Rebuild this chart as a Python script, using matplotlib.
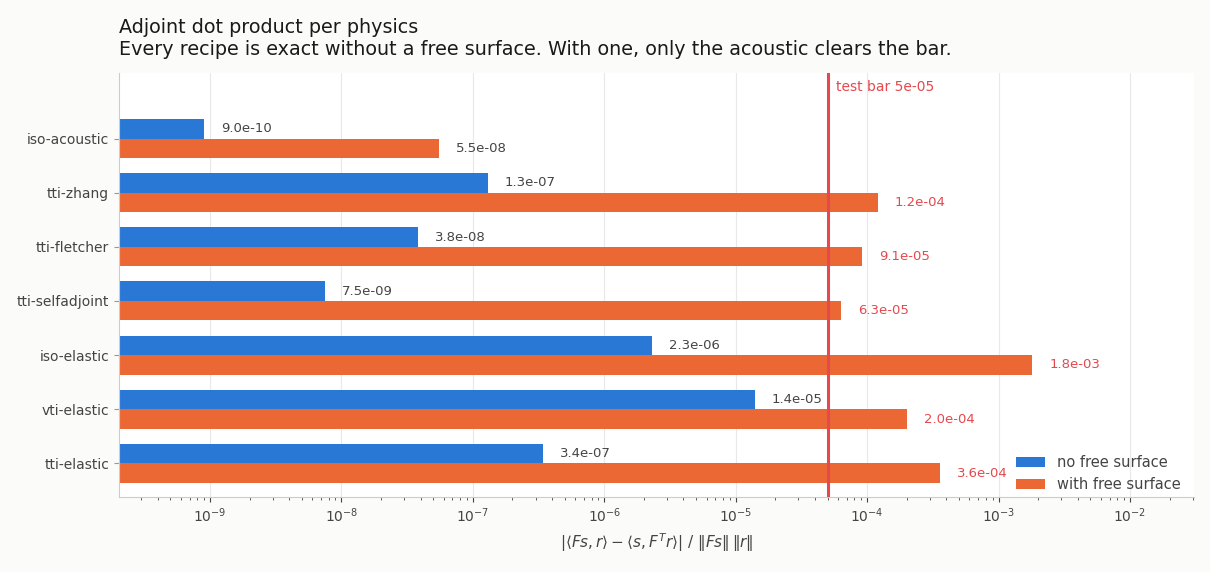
import matplotlib.pyplot as plt
import numpy as np

# Data
physics = ["iso-acoustic", "tti-zhang", "tti-fletcher", "tti-selfadjoint",
           "iso-elastic", "vti-elastic", "tti-elastic"]
no_free_surface = [9.0e-10, 1.3e-07, 3.8e-08, 7.5e-09, 2.3e-06, 1.4e-05, 3.4e-07]
with_free_surface = [5.5e-08, 1.2e-04, 9.1e-05, 6.3e-05, 1.8e-03, 2.0e-04, 3.6e-04]
test_bar = 5e-05

blue = "#2a78d6"
orange = "#eb6835"
red = "#e5484d"
grey = "#444444"

fig = plt.figure(figsize=(12.1, 5.72), dpi=100)
fig.patch.set_facecolor("#fbfbf9")
ax = fig.add_axes([0.0983, 0.1311, 0.8885, 0.7413])
ax.set_facecolor("white")

y = np.arange(len(physics))
h = 0.36
ax.barh(y - h / 2, no_free_surface, height=h, color=blue, label="no free surface", zorder=2)
ax.barh(y + h / 2, with_free_surface, height=h, color=orange, label="with free surface", zorder=2)

# value labels
for i in range(len(physics)):
    ax.text(no_free_surface[i] * 1.35, y[i] - h / 2, f"{no_free_surface[i]:.1e}",
            va="center", ha="left", fontsize=9.5, color=grey)
    c = red if with_free_surface[i] > test_bar else grey
    ax.text(with_free_surface[i] * 1.35, y[i] + h / 2, f"{with_free_surface[i]:.1e}",
            va="center", ha="left", fontsize=9.5, color=c)

ax.axvline(test_bar, color=red, lw=2.2, zorder=3)
ax.text(test_bar * 1.15, -0.95, "test bar 5e-05", color=red, fontsize=10, va="center", ha="left")

ax.set_xscale("log")
ax.set_xlim(2.03e-10, 3.07e-2)
ax.set_ylim(6.62, -1.21)
ax.set_yticks(y)
ax.set_yticklabels(physics)

ax.grid(axis="x", which="major", color="#e8e8e8", lw=0.8, zorder=0)
ax.set_axisbelow(True)
for s in ["top", "right"]:
    ax.spines[s].set_visible(False)
for s in ["left", "bottom"]:
    ax.spines[s].set_color("#cccccc")
ax.tick_params(axis="both", colors=grey, labelsize=10)
ax.tick_params(axis="x", which="minor", colors=grey)
ax.tick_params(axis="y", color="#999999")

ax.set_xlabel(r"$|\langle Fs, r\rangle - \langle s, F^T r\rangle|\ /\ \|Fs\|\,\|r\|$",
              fontsize=11, color=grey)

ax.legend(loc="lower right", frameon=False, fontsize=10.5, labelcolor=grey,
          borderaxespad=0.1, labelspacing=0.45, bbox_to_anchor=(0.9944, -0.005))

ax.set_title("Adjoint dot product per physics\n"
             "Every recipe is exact without a free surface. With one, only the acoustic clears the bar.",
             loc="left", fontsize=13.8, color="#1a1a1a", pad=13)

plt.savefig("out.png", dpi=100, facecolor=fig.get_facecolor())
